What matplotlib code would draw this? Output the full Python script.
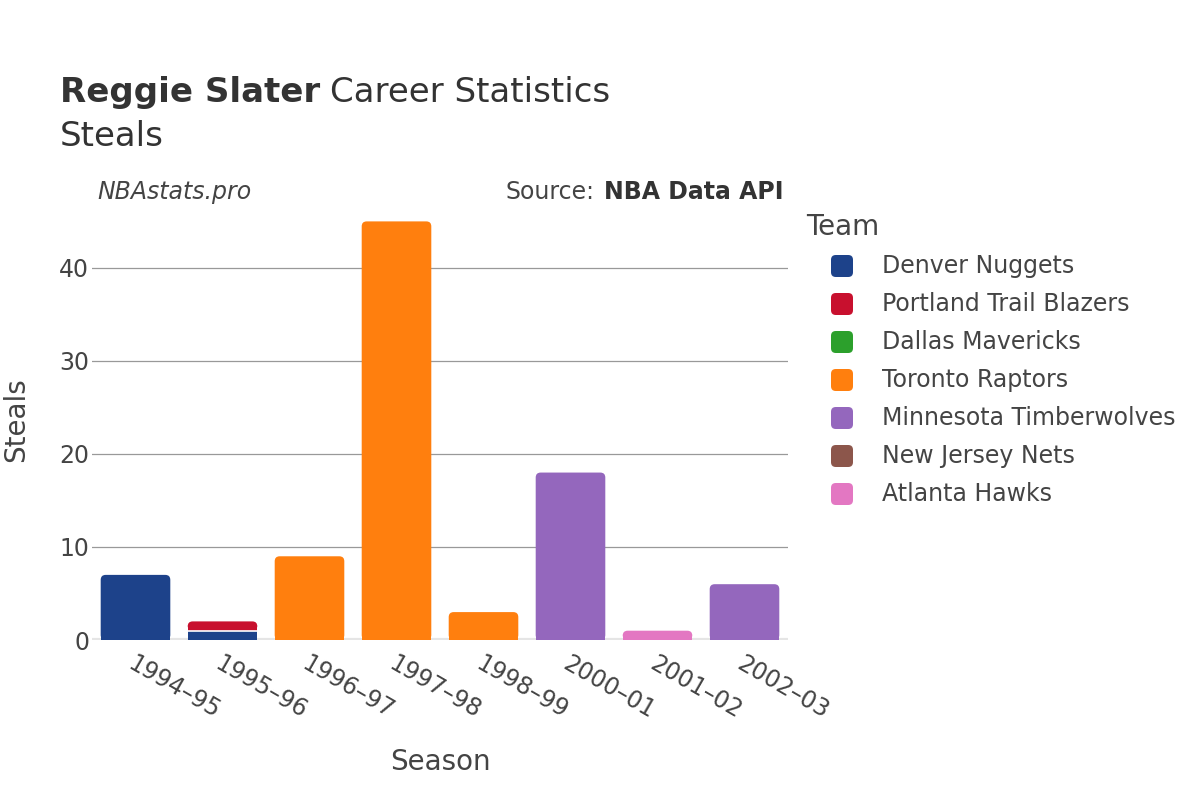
import matplotlib as mpl
mpl.use('Agg')
import matplotlib.pyplot as plt
from matplotlib.patches import FancyBboxPatch, Rectangle
import numpy as np

seasons = ['1994–95', '1995–96', '1996–97', '1997–98', '1998–99', '2000–01', '2001–02', '2002–03']
teams = ['Denver Nuggets', 'Portland Trail Blazers', 'Dallas Mavericks', 'Toronto Raptors',
         'Minnesota Timberwolves', 'New Jersey Nets', 'Atlanta Hawks']
colors = ['#1d428a', '#c8102e', '#2ca02c', '#ff7f0e', '#9467bd', '#8c564b', '#e377c2']

# steals per team per season (0 = none)
denver = [7, 1, 0, 0, 0, 0, 0, 0]
portland = [0, 1, 0, 0, 0, 0, 0, 0]
dallas = [0, 0, 0, 0, 0, 0, 0, 0]
toronto = [0, 0, 9, 45, 3, 0, 0, 0]
minnesota = [0, 0, 0, 0, 0, 18, 0, 6]
nets = [0, 0, 0, 0, 0, 0, 0, 0]
atlanta = [0, 0, 0, 0, 0, 0, 1, 0]
series = [denver, portland, dallas, toronto, minnesota, nets, atlanta]

txt = '#444444'
W, H = 1200, 800
fig = plt.figure(figsize=(12, 8), dpi=100)
ax = fig.add_axes([92 / W, 0.2, 696 / W, 0.55])

ymax = 47.3
ax.set_xlim(-0.5, len(seasons) - 0.5)
ax.set_ylim(0, ymax)

# px per data unit, for rounded bar tops
px_x = 696 / len(seasons)
px_y = 440 / ymax
rad = 5.0 / px_x
aspect = px_x / px_y

x = np.arange(len(seasons))
width = 0.8
totals = np.sum(np.array(series, dtype=float), axis=0)
bottom = np.zeros(len(seasons))
for vals, col in zip(series, colors):
    for i, v in enumerate(vals):
        if v <= 0:
            continue
        b = bottom[i]
        top_seg = abs(b + v - totals[i]) < 1e-9
        if top_seg:
            ax.add_patch(FancyBboxPatch((x[i] - width / 2, b), width, v,
                                        boxstyle='round,pad=0,rounding_size=%f' % rad,
                                        mutation_aspect=aspect, facecolor=col,
                                        edgecolor='none', zorder=3))
            ax.add_patch(Rectangle((x[i] - width / 2, b), width, v / 2,
                                   facecolor=col, edgecolor='none', zorder=3))
        else:
            ax.add_patch(Rectangle((x[i] - width / 2, b), width, v,
                                   facecolor=col, edgecolor='none', zorder=3))
        if b > 0:
            ax.plot([x[i] - width / 2, x[i] + width / 2], [b, b], color='white', lw=1.2, zorder=4)
        bottom[i] += v

ax.set_yticks([0, 10, 20, 30, 40])
ax.grid(axis='y', color='#999999', linewidth=0.9, zorder=0)
ax.axhline(0, color='#e5e5e5', linewidth=3, zorder=2)
for s in ax.spines.values():
    s.set_visible(False)
ax.tick_params(length=0, labelsize=17, colors=txt)
ax.tick_params(axis='y', pad=2)
ax.tick_params(axis='x', pad=8)
ax.set_xticks(x)
ax.set_xticklabels(seasons, rotation=-30, ha='left', rotation_mode='anchor')
ax.set_xlabel('Season', fontsize=20, color=txt)
ax.set_ylabel('Steals', fontsize=20, color=txt)
ax.xaxis.set_label_coords(0.5, -0.245)
ax.yaxis.set_label_coords(-0.089, 0.5)

t1 = fig.text(0.05, 0.872, 'Reggie Slater', fontsize=24.5, fontweight='bold', color='#333333')
fig.canvas.draw()
bb = t1.get_window_extent()
fig.text(bb.x1 / W + 0.008, 0.872, 'Career Statistics', fontsize=24.5, color='#333333')
fig.text(0.05, 0.818, 'Steals', fontsize=24.5, color='#333333')

fig.text(0.081, 0.751, 'NBAstats.pro', fontsize=17, style='italic', color=txt)
s2 = fig.text(784 / W, 0.751, 'NBA Data API', fontsize=17, fontweight='bold', color='#333333', ha='right')
fig.canvas.draw()
bb2 = s2.get_window_extent()
fig.text(bb2.x0 / W - 0.008, 0.751, 'Source:', fontsize=17, color=txt, ha='right')

# legend
fig.text(806 / W, 1 - 227 / H, 'Team', fontsize=20, color=txt, va='center')
for k, (team, col) in enumerate(zip(teams, colors)):
    yc = 266 + 38 * k
    fig.patches.append(FancyBboxPatch((831 / W, 1 - (yc + 11) / H), 22 / W, 22 / H,
                                      boxstyle='round,pad=0,rounding_size=0.004',
                                      mutation_aspect=W / H,
                                      transform=fig.transFigure, facecolor=col,
                                      edgecolor='none', figure=fig))
    fig.text(882 / W, 1 - yc / H, team, fontsize=17, color=txt, va='center')

plt.savefig('out.png', dpi=100)
